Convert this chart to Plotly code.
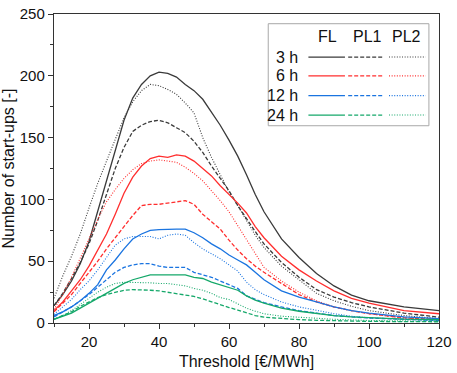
import plotly.graph_objects as go

threshold = [10, 12.5, 15, 17.5, 20, 22.5, 25, 27.5, 30, 32.5, 35, 37.5, 40, 42.5, 45, 47.5,
             50, 52.5, 55, 57.5, 60, 62.5, 65, 67.5, 70, 75, 80, 85, 90, 95, 100, 110, 120]

fl_3h = [14, 23, 34, 48, 66, 91, 115, 141, 164, 182, 193, 200, 203, 202, 199, 193,
         188, 181, 171, 160, 148, 135, 120, 104, 90, 68, 53, 40, 30, 22.5, 18, 13, 10]
pl1_3h = [14, 24, 36, 49, 64, 83, 104, 125, 142, 155, 160, 163, 164, 162, 158, 154,
          147, 138, 127, 117, 107, 95, 84, 74, 64, 49, 37, 27, 21, 16.5, 13, 8, 4.7]
pl2_3h = [20, 38, 54, 72, 93, 113, 131, 149, 166, 179, 188, 193, 192, 189, 185, 178,
          170, 150, 134, 120, 106, 95, 83, 71, 61, 46, 35, 24, 18, 13.5, 10, 6, 3.5]

fl_6h = [10, 17, 26, 35, 46, 59, 72, 88, 105, 118, 127, 133, 135, 134, 136, 135,
         131, 125, 119, 111, 104, 97, 89, 78, 69, 54, 43, 34, 26, 20, 16, 10, 7.5]
pl1_6h = [9, 16, 23, 32, 41, 50, 60, 69, 78, 87, 95, 96, 96, 97, 98, 99,
          96, 88, 82, 76, 67, 59, 52, 46, 41, 32, 23, 17, 13, 10, 7.5, 4.2, 2.7]
pl2_6h = [11, 23, 37, 52, 68, 84, 98, 108, 117, 124, 129, 131, 132, 131, 130, 126,
          121, 115, 107, 99, 90, 79, 67, 56, 45, 34, 25, 18, 13, 10, 7.5, 4, 2.7]

fl_12h = [6, 9, 13, 18, 24, 31, 43, 51, 60, 68, 72, 75, 75.5, 76, 76, 76,
          73, 69, 64, 60, 55, 51, 47, 41, 35, 26, 21, 17, 13, 10, 8, 5, 3.5]
pl1_12h = [5, 9, 13, 18, 23, 29, 35, 41, 45, 47, 48, 48, 46, 45, 45, 45,
           41, 39, 37, 34, 31, 28, 22, 19, 16.5, 13, 10, 8, 6, 5, 4, 3, 2]
pl2_12h = [7, 13, 19, 27, 34, 43, 53, 63, 68, 70, 70, 70, 68, 71, 72, 71,
           65, 60, 56, 52, 47, 42, 33, 27, 23, 17, 13, 10, 7.5, 5.5, 4.2, 3, 2]

fl_24h = [3, 5.5, 8, 12, 16, 20, 24, 28, 32, 35, 37, 39, 39, 39, 39, 39,
          37, 36, 33, 31, 29, 26.5, 22, 18.5, 16, 12, 9.5, 7.5, 6, 5, 4.2, 3.2, 2.7]
pl1_24h = [3, 6, 9, 13.5, 17, 20.5, 23, 25, 26.5, 27, 27, 26.5, 26, 25, 24, 23,
           21.5, 19.5, 17, 15, 12.5, 10.5, 8, 6, 4.7, 3.5, 2.7, 2.2, 1.8, 1.5, 1.3, 1.1, 1]
pl2_24h = [3, 6, 10, 15, 20, 25, 29, 32, 33, 33, 33, 32.5, 32, 32, 31, 30,
           28, 26.5, 24, 20.5, 19, 15.5, 12, 9.5, 7.5, 5.5, 4.5, 3.5, 3, 2.5, 2, 1.7, 1.5]

periods = ["3 h", "6 h", "12 h", "24 h"]
columns = ["FL", "PL1", "PL2"]
series = {
    "3 h": [fl_3h, pl1_3h, pl2_3h],
    "6 h": [fl_6h, pl1_6h, pl2_6h],
    "12 h": [fl_12h, pl1_12h, pl2_12h],
    "24 h": [fl_24h, pl1_24h, pl2_24h],
}
colors = {"3 h": "#3a3a3a", "6 h": "#ff2e2e", "12 h": "#1a74e0", "24 h": "#15a86a"}
dashes = ["solid", "4px,2px", "1px,1.6px"]
widths = [1.3, 1.3, 1.1]

x_ticks = [20, 40, 60, 80, 100, 120]
y_ticks = [0, 50, 100, 150, 200, 250]

fig = go.Figure()
for p in periods:
    for j, col in enumerate(columns):
        fig.add_trace(go.Scatter(
            x=threshold, y=series[p][j], mode="lines", name=f"{p} {col}",
            line=dict(color=colors[p], width=widths[j], dash=dashes[j]),
            showlegend=False, hoverinfo="skip"))

# custom legend (grid of line samples)
L, T, W, H = 53, 5, 393, 318
def px(xp):
    return (xp - L) / W
def py(yp):
    return (T + H - yp) / H

shapes = [dict(type="rect", xref="paper", yref="paper",
               x0=px(271.7), x1=px(435.7), y0=py(120), y1=py(15),
               line=dict(color="#a8a8a8", width=1), fillcolor="white", layer="above")]
annotations = []
seg_x = [(312.7, 350), (353.3, 390), (395, 432.3)]
head_x = [331.7, 373, 413]
row_y = [49.3, 68.7, 89, 109]
for j, col in enumerate(columns):
    annotations.append(dict(xref="paper", yref="paper", x=px(head_x[j]), y=py(28.5),
                            text=col, showarrow=False, xanchor="center", yanchor="middle",
                            font=dict(size=16, color="#111")))
for i, p in enumerate(periods):
    annotations.append(dict(xref="paper", yref="paper", x=px(304), y=py(row_y[i]),
                            text=p, showarrow=False, xanchor="right", yanchor="middle",
                            font=dict(size=16, color="#111")))
    for j in range(3):
        shapes.append(dict(type="line", xref="paper", yref="paper",
                           x0=px(seg_x[j][0]), x1=px(seg_x[j][1]),
                           y0=py(row_y[i]), y1=py(row_y[i]), layer="above",
                           line=dict(color=colors[p], width=widths[j], dash=dashes[j])))

fig.update_layout(
    width=457, height=373,
    margin=dict(l=L, r=457 - L - W, t=T, b=373 - T - H),
    plot_bgcolor="white", paper_bgcolor="white",
    font=dict(family="Liberation Sans, Arial, sans-serif", size=15, color="#111"),
    shapes=shapes, annotations=annotations,
    xaxis=dict(range=[10, 120], tickvals=x_ticks, showgrid=False, zeroline=False,
               showline=True, linecolor="#333", linewidth=1.2, mirror=True,
               ticks="outside", ticklen=5, tickwidth=1, tickcolor="#333",
               ticklabeloverflow="allow",
               minor=dict(dtick=10, tick0=0, ticks="outside", ticklen=3, tickcolor="#333", showgrid=False),
               tickfont=dict(size=15),
               title=dict(text="Threshold [€/MWh]", font=dict(size=16), standoff=6)),
    yaxis=dict(range=[0, 250], tickvals=y_ticks, showgrid=False, zeroline=False,
               showline=True, linecolor="#333", linewidth=1.2, mirror=True,
               ticks="outside", ticklen=5, tickwidth=1, tickcolor="#333",
               ticklabeloverflow="allow",
               minor=dict(dtick=25, tick0=0, ticks="outside", ticklen=3, tickcolor="#333", showgrid=False),
               tickfont=dict(size=15),
               title=dict(text="Number of start-ups [-]", font=dict(size=16), standoff=4)),
)

fig.write_html("out.html",
               config={"displayModeBar": False, "staticPlot": True},
               post_script="document.body.style.margin='0';document.body.style.padding='0';"
                           "document.body.style.overflow='hidden';")
